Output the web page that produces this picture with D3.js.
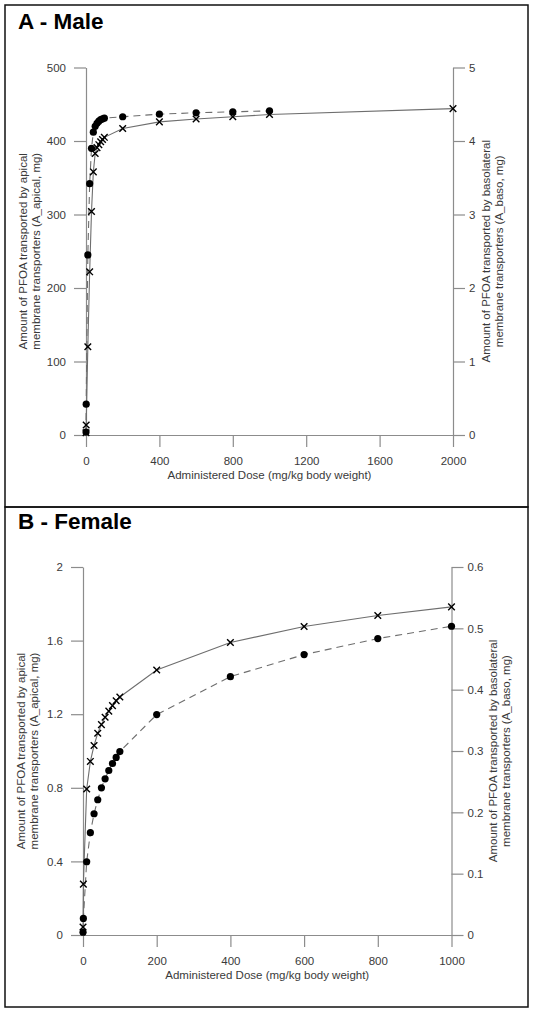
<!DOCTYPE html>
<html><head><meta charset="utf-8">
<script src="https://cdn.jsdelivr.net/npm/d3@7"></script>
<style>
body{margin:0;background:#fff}
svg{display:block}
text{font-family:Arial,"Liberation Sans",sans-serif}
</style>
</head><body>
<svg id="c" width="533" height="1014"></svg>
<script>
// ---- Panel A (Male) data ----
const maleDoseApical = [0.1, 1, 10, 20, 30, 40, 50, 60, 70, 80, 90, 100, 200, 400, 600, 800, 1000];
const maleApical     = [4, 42, 245, 342, 390, 412, 420, 424, 427, 429, 430, 431, 433, 436.5, 438.4, 439.7, 441];
const maleDoseBaso   = [0.1, 1, 10, 20, 30, 40, 50, 60, 70, 80, 90, 100, 200, 400, 600, 800, 1000, 2000];
const maleBaso       = [0.03, 0.136, 1.2, 2.22, 3.04, 3.58, 3.83, 3.91, 3.95, 3.99, 4.02, 4.05, 4.17, 4.26, 4.30, 4.33, 4.36, 4.44];
const maleXTicks     = [0, 400, 800, 1200, 1600, 2000];
const maleLeftTicks  = [0, 100, 200, 300, 400, 500];
const maleRightTicks = [0, 1, 2, 3, 4, 5];

// ---- Panel B (Female) data ----
const femaleDose     = [0.1, 1, 10, 20, 30, 40, 50, 60, 70, 80, 90, 100, 200, 400, 600, 800, 1000];
const femaleApical   = [0.015, 0.09, 0.398, 0.556, 0.659, 0.735, 0.800, 0.849, 0.894, 0.932, 0.965, 0.997, 1.198, 1.404, 1.524, 1.611, 1.678];
const femaleBaso     = [0.013, 0.083, 0.238, 0.283, 0.309, 0.329, 0.343, 0.355, 0.365, 0.374, 0.382, 0.388, 0.432, 0.477, 0.503, 0.521, 0.535];
const femaleXTicks     = [0, 200, 400, 600, 800, 1000];
const femaleLeftTicks  = [0, 0.4, 0.8, 1.2, 1.6, 2];
const femaleRightTicks = [0, 0.1, 0.2, 0.3, 0.4, 0.5, 0.6];

const svg = d3.select("#c");
const AXIS = "#8c8c8c", TXT = "#3a3a3a", LINE = "#6e6e6e";

// outer boxes
svg.append("rect").attr("x",5).attr("y",5).attr("width",523).attr("height",502)
  .attr("fill","none").attr("stroke","#111").attr("stroke-width",1.5);
svg.append("rect").attr("x",5).attr("y",507).attr("width",523).attr("height",500)
  .attr("fill","none").attr("stroke","#111").attr("stroke-width",1.5);

function panel(cfg){
  const g = svg.append("g");
  g.append("text").attr("x",18).attr("y",cfg.top+24).attr("font-size",22.5)
    .attr("font-weight","bold").attr("fill","#000").text(cfg.title);

  const x = d3.scaleLinear().domain([0,cfg.xMax]).range([cfg.x0,cfg.x1]);
  const yL = d3.scaleLinear().domain([0,cfg.lMax]).range([cfg.yB,cfg.yT]);
  const yR = d3.scaleLinear().domain([0,cfg.rMax]).range([cfg.yB,cfg.yT]);

  function styleAxis(sel){
    sel.select(".domain").attr("stroke",AXIS).attr("stroke-width",1.2);
    sel.selectAll(".tick line").attr("stroke",AXIS).attr("stroke-width",1.2);
    sel.selectAll(".tick text").attr("fill",TXT).attr("font-size",11.5)
      .attr("font-family","Arial, 'Liberation Sans', sans-serif");
  }
  g.append("g").attr("transform",`translate(0,${cfg.yB})`)
    .call(d3.axisBottom(x).tickValues(cfg.xTicks).tickSize(12).tickSizeOuter(0).tickPadding(10).tickFormat(d3.format("d")))
    .call(styleAxis);
  g.append("g").attr("transform",`translate(${cfg.x0},0)`)
    .call(d3.axisLeft(yL).tickValues(cfg.lTicks).tickSize(12).tickSizeOuter(0).tickPadding(8).tickFormat(cfg.lFmt))
    .call(styleAxis);
  g.append("g").attr("transform",`translate(${cfg.x1},0)`)
    .call(d3.axisRight(yR).tickValues(cfg.rTicks).tickSize(12).tickSizeOuter(0).tickPadding(4).tickFormat(cfg.rFmt))
    .call(styleAxis);

  // axis titles
  g.append("text").attr("x",(cfg.x0+cfg.x1)/2).attr("y",cfg.yB+44).attr("text-anchor","middle")
    .attr("font-size",11.5).attr("fill",TXT).text("Administered Dose (mg/kg body weight)");
  const cy = (cfg.yB+cfg.yT)/2;
  const lt = g.append("text").attr("transform",`translate(${cfg.lTitleX},${cy}) rotate(-90)`)
    .attr("text-anchor","middle").attr("font-size",11.5).attr("fill",TXT);
  lt.append("tspan").attr("x",0).attr("dy",0).text("Amount of PFOA transported by apical");
  lt.append("tspan").attr("x",0).attr("dy",12.5).text("membrane transporters (A_apical, mg)");
  const rt = g.append("text").attr("transform",`translate(${cfg.rTitleX},${cy}) rotate(-90)`)
    .attr("text-anchor","middle").attr("font-size",11.5).attr("fill",TXT);
  rt.append("tspan").attr("x",0).attr("dy",0).text("Amount of PFOA transported by basolateral");
  rt.append("tspan").attr("x",0).attr("dy",12.5).text("membrane transporters (A_baso, mg)");

  // data
  const apical = cfg.doseA.map((d,i)=>[d,cfg.apical[i]]);
  const baso = cfg.doseB.map((d,i)=>[d,cfg.baso[i]]);
  g.append("path").datum(apical).attr("fill","none").attr("stroke",LINE).attr("stroke-width",1.1)
    .attr("stroke-dasharray","7,5")
    .attr("d",d3.line().x(d=>x(d[0])).y(d=>yL(d[1])));
  g.append("path").datum(baso).attr("fill","none").attr("stroke",LINE).attr("stroke-width",1.1)
    .attr("d",d3.line().x(d=>x(d[0])).y(d=>yR(d[1])));
  g.selectAll(".dot").data(apical).join("circle").attr("cx",d=>x(d[0])).attr("cy",d=>yL(d[1]))
    .attr("r",3.6).attr("fill","#000");
  g.selectAll(".cross").data(baso).join("path")
    .attr("transform",d=>`translate(${x(d[0])},${yR(d[1])})`)
    .attr("d","M-3.3,-3.3L3.3,3.3M-3.3,3.3L3.3,-3.3").attr("stroke","#000").attr("stroke-width",1.4);
}

panel({title:"A - Male", top:5, xMax:2000, lMax:500, rMax:5, x0:86, x1:453, yB:435, yT:67.5,
  xTicks:maleXTicks, lTicks:maleLeftTicks, rTicks:maleRightTicks,
  lFmt:d3.format("d"), rFmt:d3.format("d"), lTitleX:27, rTitleX:490,
  doseA:maleDoseApical, apical:maleApical, doseB:maleDoseBaso, baso:maleBaso});

panel({title:"B - Female", top:505, xMax:1000, lMax:2, rMax:0.6, x0:83, x1:451.5, yB:935, yT:567,
  xTicks:femaleXTicks, lTicks:femaleLeftTicks, rTicks:femaleRightTicks,
  lFmt:d=>String(d), rFmt:d=>String(d), lTitleX:25, rTitleX:497,
  doseA:femaleDose, apical:femaleApical, doseB:femaleDose, baso:femaleBaso});
</script>
</body></html>
